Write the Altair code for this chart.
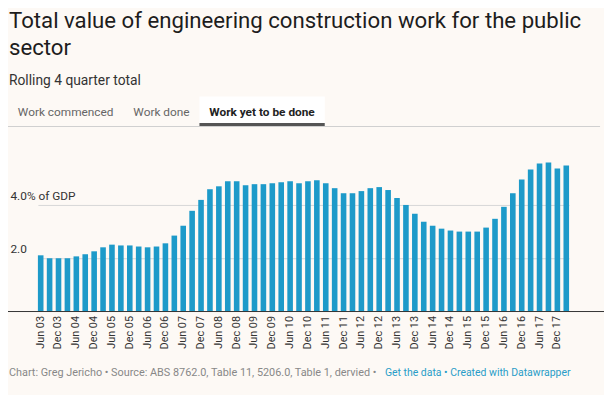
import altair as alt
import pandas as pd

# ---- data ----
months = ["Jun", "Sep", "Dec", "Mar"]
quarters = []
for i in range(60):
    m = months[i % 4]
    yr = 3 + (i + 1) // 4
    quarters.append(f"{m} {yr:02d}")

values = [
    2.11, 2.00, 2.00, 2.00, 2.07, 2.15, 2.26, 2.41, 2.51, 2.48,
    2.48, 2.44, 2.41, 2.44, 2.56, 2.85, 3.22, 3.78, 4.19, 4.59,
    4.70, 4.89, 4.89, 4.74, 4.78, 4.78, 4.81, 4.85, 4.89, 4.81,
    4.89, 4.93, 4.81, 4.63, 4.44, 4.44, 4.52, 4.63, 4.67, 4.56,
    4.26, 4.00, 3.67, 3.37, 3.22, 3.11, 3.04, 3.00, 3.00, 3.00,
    3.15, 3.48, 3.93, 4.44, 4.96, 5.33, 5.56, 5.59, 5.37, 5.48,
]
tick_labels = quarters[0:59:2]
y_ticks = [2, 4]

title_lines = ["Total value of engineering construction work for the public", "sector"]
subtitle = "Rolling 4 quarter total"
tabs = ["Work commenced", "Work done", "Work yet to be done"]
footer_gray = "Chart: Greg Jericho • Source: ABS 8762.0, Table 11, 5206.0, Table 1, dervied •"
footer_blue = "Get the data • Created with Datawrapper"

df = pd.DataFrame({"quarter": quarters, "value": values})

W, H = 600, 162
BG = "#fdf9f5"
BAR = "#1d9ac9"
FONT = "Roboto"

one = alt.Data(values=[{"k": 0}])


def txt(s, x, y, size, color, weight="normal", align="left"):
    return alt.Chart(one).mark_text(
        align=align, baseline="alphabetic", font=FONT, fontSize=size,
        color=color, fontWeight=weight
    ).encode(x=alt.value(x), y=alt.value(y), text=alt.value(s))


def rect(x, x2, y, y2, color):
    return alt.Chart(one).mark_rect(color=color).encode(
        x=alt.value(x), x2=alt.value(x2), y=alt.value(y), y2=alt.value(y2)
    )


# page coords -> plot coords: x - 8, y - 151
bars = alt.Chart(df).mark_bar(color=BAR).encode(
    x=alt.X(
        "quarter:N", sort=None, title=None,
        scale=alt.Scale(paddingInner=0.372, paddingOuter=0, range=[30.3, 568.6]),
        axis=alt.Axis(
            values=tick_labels, labelAngle=-90, domain=False, ticks=False,
            labelPadding=4, labelFont=FONT, labelFontSize=11, labelColor="#333",
        ),
    ),
    y=alt.Y(
        "value:Q", title=None,
        scale=alt.Scale(domain=[0, 6], nice=False),
        axis=alt.Axis(
            values=y_ticks, grid=True, gridColor="#d6d6d6", domain=False,
            ticks=False, tickSize=0, labelAlign="left", labelPadding=-2,
            labelOffset=-6, labelBaseline="alphabetic", labelFont=FONT,
            labelFontSize=12, labelColor="#333",
            labelExpr="datum.value == 4 ? '4.0% of GDP' : format(datum.value, '.1f')",
        ),
    ),
)

baseline = alt.Chart(one).mark_rule(color="#333", strokeWidth=1).encode(
    x=alt.value(0), x2=alt.value(604), y=alt.value(H)
)

layers = [
    bars,
    baseline,
    txt(title_lines[0], 1, 26 - 151, 22.5, "#1d1d1d"),
    txt(title_lines[1], 1, 53 - 151, 22.5, "#1d1d1d"),
    txt(subtitle, 1, 83 - 151, 14, "#333"),
    rect(202 - 8, 329 - 8, 95 - 151, 125 - 151, "#ffffff"),
    rect(0, 600, 125 - 151, 126 - 151, "#d0d0d0"),
    rect(202 - 8, 329 - 8, 122 - 151, 125 - 151, "#555555"),
    txt(tabs[0], 18 - 8, 115 - 151, 12, "#666"),
    txt(tabs[1], 135 - 8, 115 - 151, 12, "#666"),
    txt(tabs[2], 212 - 8, 115 - 151, 12, "#222", "bold"),
    txt(footer_gray, 1, 378.5 - 151, 11, "#888"),
    txt(footer_blue, 578 - 8, 378.5 - 151, 10.6, "#2a9dc8", align="right"),
]

chart = alt.layer(*layers).properties(
    width=W, height=H,
    padding={"left": 0, "top": 143, "right": 4, "bottom": 82},
    autosize=alt.AutoSizeParams(type="none"),
    background=BG,
).configure_view(stroke=None)

chart.save("out.html", embed_options={"renderer": "svg", "actions": False})
